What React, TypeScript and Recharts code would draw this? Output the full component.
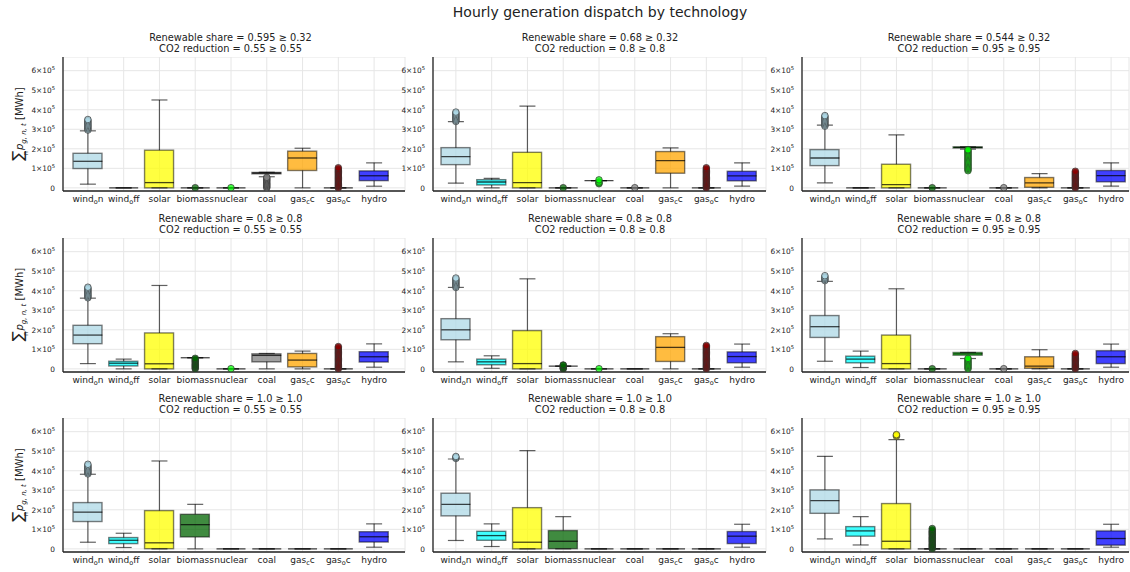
import React from "react";
import { ComposedChart, Bar, Scatter, ErrorBar, XAxis, YAxis, CartesianGrid } from "recharts";

const techs = ["wind_on", "wind_off", "solar", "biomass", "nuclear", "coal", "gas_cc", "gas_oc", "hydro"];
const techColors = ["#add8e6", "#00ffff", "#ffff00", "#006400", "#00ff00", "#808080", "#ffa500", "#8b0000", "#0000ff"];
// label pieces: [before, subscript, after]
const techLabels = [
  ["wind", "o", "n"], ["wind", "o", "ff"], ["solar", "", ""], ["biomass", "", ""], ["nuclear", "", ""],
  ["coal", "", ""], ["gas", "c", "c"], ["gas", "o", "c"], ["hydro", "", ""],
];

const renewableShare = ["0.595 ≥ 0.32", "0.68 ≥ 0.32", "0.544 ≥ 0.32", "0.8 ≥ 0.8", "0.8 ≥ 0.8", "0.8 ≥ 0.8", "1.0 ≥ 1.0", "1.0 ≥ 1.0", "1.0 ≥ 1.0"];
const co2Reduction = ["0.55 ≥ 0.55", "0.8 ≥ 0.8", "0.95 ≥ 0.95", "0.55 ≥ 0.55", "0.8 ≥ 0.8", "0.95 ≥ 0.95", "0.55 ≥ 0.55", "0.8 ≥ 0.8", "0.95 ≥ 0.95"];

const yTicks = [0, 1e5, 2e5, 3e5, 4e5, 5e5, 6e5];

// [lower whisker, q1, median, q3, upper whisker] per tech, MWh
const stats11 = [
  [0.19e5, 0.99e5, 1.36e5, 1.77e5, 2.92e5], [0, 0, 0, 0, 0], [0, 0, 0.27e5, 1.93e5, 4.5e5],
  [0, 0, 0, 0, 0], [0, 0, 0, 0, 0], [0.57e5, 0.72e5, 0.76e5, 0.79e5, 0.8e5],
  [0, 0.89e5, 1.53e5, 1.88e5, 2.03e5], [0, 0, 0, 0, 0], [0.085e5, 0.37e5, 0.62e5, 0.87e5, 1.28e5],
];
const stats12 = [
  [0.24e5, 1.19e5, 1.6e5, 2.06e5, 3.39e5], [0, 0.15e5, 0.3e5, 0.42e5, 0.49e5], [0, 0, 0.27e5, 1.82e5, 4.19e5],
  [0, 0, 0, 0, 0], [0.37e5, 0.37e5, 0.37e5, 0.37e5, 0.37e5], [0, 0, 0, 0, 0],
  [0, 0.75e5, 1.4e5, 1.86e5, 2.05e5], [0, 0, 0, 0, 0], [0.085e5, 0.36e5, 0.61e5, 0.85e5, 1.28e5],
];
const stats13 = [
  [0.26e5, 1.14e5, 1.53e5, 1.96e5, 3.21e5], [0, 0, 0, 0, 0], [0, 0, 0.17e5, 1.21e5, 2.71e5],
  [0, 0, 0, 0, 0], [1.98e5, 2.04e5, 2.07e5, 2.1e5, 2.1e5], [0, 0, 0, 0, 0],
  [0, 0.03e5, 0.26e5, 0.53e5, 0.73e5], [0, 0, 0, 0, 0], [0.085e5, 0.31e5, 0.63e5, 0.89e5, 1.28e5],
];
const stats21 = [
  [0.27e5, 1.29e5, 1.73e5, 2.23e5, 3.62e5], [0, 0.15e5, 0.29e5, 0.39e5, 0.5e5], [0, 0, 0.26e5, 1.84e5, 4.27e5],
  [0.57e5, 0.57e5, 0.57e5, 0.57e5, 0.57e5], [0, 0, 0, 0, 0], [0, 0.36e5, 0.69e5, 0.77e5, 0.79e5],
  [0, 0.1e5, 0.45e5, 0.79e5, 0.91e5], [0, 0, 0, 0, 0], [0.085e5, 0.35e5, 0.62e5, 0.88e5, 1.28e5],
];
const stats22 = [
  [0.36e5, 1.49e5, 2.0e5, 2.57e5, 4.17e5], [0.03e5, 0.21e5, 0.36e5, 0.5e5, 0.67e5], [0, 0, 0.27e5, 1.96e5, 4.61e5],
  [0.14e5, 0.14e5, 0.14e5, 0.14e5, 0.14e5], [0, 0, 0, 0, 0], [0, 0, 0, 0, 0],
  [0, 0.38e5, 1.1e5, 1.65e5, 1.8e5], [0, 0, 0, 0, 0], [0.085e5, 0.31e5, 0.63e5, 0.87e5, 1.27e5],
];
const stats23 = [
  [0.39e5, 1.61e5, 2.16e5, 2.73e5, 4.48e5], [0.07e5, 0.31e5, 0.5e5, 0.65e5, 0.91e5], [0, 0, 0.27e5, 1.73e5, 4.1e5],
  [0, 0, 0, 0, 0], [0.53e5, 0.7e5, 0.77e5, 0.84e5, 0.84e5], [0, 0, 0, 0, 0],
  [0, 0.03e5, 0.14e5, 0.62e5, 0.98e5], [0, 0, 0, 0, 0], [0.085e5, 0.27e5, 0.62e5, 0.93e5, 1.27e5],
];
const stats31 = [
  [0.34e5, 1.4e5, 1.88e5, 2.37e5, 3.82e5], [0.07e5, 0.27e5, 0.44e5, 0.58e5, 0.8e5], [0, 0.01e5, 0.31e5, 1.96e5, 4.5e5],
  [0, 0.61e5, 1.24e5, 1.77e5, 2.28e5], [0, 0, 0, 0, 0], [0, 0, 0, 0, 0],
  [0, 0, 0, 0, 0], [0, 0, 0, 0, 0], [0.085e5, 0.35e5, 0.62e5, 0.88e5, 1.28e5],
];
const stats32 = [
  [0.43e5, 1.69e5, 2.28e5, 2.85e5, 4.6e5], [0.12e5, 0.44e5, 0.68e5, 0.9e5, 1.28e5], [0, 0, 0.34e5, 2.11e5, 5.03e5],
  [0, 0.01e5, 0.39e5, 0.94e5, 1.65e5], [0, 0, 0, 0, 0], [0, 0, 0, 0, 0],
  [0, 0, 0, 0, 0], [0, 0, 0, 0, 0], [0.085e5, 0.27e5, 0.65e5, 0.89e5, 1.26e5],
];
const stats33 = [
  [0.51e5, 1.82e5, 2.47e5, 3.02e5, 4.74e5], [0.2e5, 0.65e5, 0.92e5, 1.14e5, 1.65e5], [0, 0, 0.39e5, 2.32e5, 5.59e5],
  [0, 0, 0, 0, 0], [0, 0, 0, 0, 0], [0, 0, 0, 0, 0],
  [0, 0, 0, 0, 0], [0, 0, 0, 0, 0], [0.085e5, 0.19e5, 0.53e5, 0.92e5, 1.26e5],
];

// outliers per tech
const out11 = [
  [2.96e5, 3.02e5, 3.08e5, 3.14e5, 3.2e5, 3.26e5, 3.32e5, 3.38e5, 3.44e5, 3.5e5], [], [], [0.01e5], [0.01e5],
  [0, 0.06e5, 0.12e5, 0.18e5, 0.24e5, 0.3e5, 0.36e5, 0.42e5, 0.48e5, 0.54e5], [],
  [0, 0.06e5, 0.12e5, 0.18e5, 0.24e5, 0.3e5, 0.36e5, 0.42e5, 0.48e5, 0.54e5, 0.6e5, 0.66e5, 0.72e5, 0.78e5, 0.84e5, 0.9e5, 0.96e5, 1.03e5], [],
];
const out12 = [
  [3.4e5, 3.46e5, 3.52e5, 3.58e5, 3.64e5, 3.7e5, 3.76e5, 3.82e5, 3.88e5], [], [], [0.01e5], [0.21e5, 0.25e5, 0.3e5, 0.41e5],
  [0.01e5], [],
  [0, 0.06e5, 0.12e5, 0.18e5, 0.24e5, 0.3e5, 0.36e5, 0.42e5, 0.48e5, 0.54e5, 0.6e5, 0.66e5, 0.72e5, 0.78e5, 0.84e5, 0.9e5, 0.96e5, 1.03e5], [],
];
const out13 = [
  [3.16e5, 3.22e5, 3.28e5, 3.34e5, 3.4e5, 3.46e5, 3.52e5, 3.58e5, 3.64e5, 3.7e5], [], [], [0.01e5],
  [0.88e5, 0.94e5, 1.0e5, 1.06e5, 1.12e5, 1.18e5, 1.24e5, 1.3e5, 1.36e5, 1.42e5, 1.48e5, 1.54e5, 1.6e5, 1.66e5, 1.72e5, 1.78e5, 1.84e5, 1.9e5, 1.95e5],
  [0.01e5], [],
  [0, 0.06e5, 0.12e5, 0.18e5, 0.24e5, 0.3e5, 0.36e5, 0.42e5, 0.48e5, 0.54e5, 0.6e5, 0.66e5, 0.72e5, 0.78e5, 0.85e5], [],
];
const out21 = [
  [3.64e5, 3.7e5, 3.76e5, 3.82e5, 3.88e5, 3.94e5, 4.0e5, 4.06e5, 4.12e5, 4.18e5], [], [],
  [0, 0.06e5, 0.12e5, 0.18e5, 0.24e5, 0.3e5, 0.36e5, 0.42e5, 0.48e5, 0.54e5], [0.01e5], [], [],
  [0, 0.06e5, 0.12e5, 0.18e5, 0.24e5, 0.3e5, 0.36e5, 0.42e5, 0.48e5, 0.54e5, 0.6e5, 0.66e5, 0.72e5, 0.78e5, 0.84e5, 0.9e5, 0.96e5, 1.02e5, 1.08e5, 1.14e5], [],
];
const out22 = [
  [4.17e5, 4.23e5, 4.29e5, 4.35e5, 4.41e5, 4.47e5, 4.53e5, 4.59e5, 4.65e5], [], [],
  [0, 0.04e5, 0.08e5, 0.18e5, 0.2e5], [0.01e5], [], [],
  [0, 0.06e5, 0.12e5, 0.18e5, 0.24e5, 0.3e5, 0.36e5, 0.42e5, 0.48e5, 0.54e5, 0.6e5, 0.66e5, 0.72e5, 0.78e5, 0.84e5, 0.9e5, 0.96e5, 1.02e5, 1.08e5, 1.14e5, 1.2e5], [],
];
const out23 = [
  [4.52e5, 4.58e5, 4.64e5, 4.7e5, 4.77e5], [], [], [0.01e5],
  [0, 0.06e5, 0.12e5, 0.18e5, 0.24e5, 0.3e5, 0.36e5, 0.42e5, 0.48e5, 0.54e5], [0.01e5], [],
  [0, 0.06e5, 0.12e5, 0.18e5, 0.24e5, 0.3e5, 0.36e5, 0.42e5, 0.48e5, 0.54e5, 0.6e5, 0.66e5, 0.72e5, 0.79e5], [],
];
const out31 = [
  [3.84e5, 3.9e5, 3.96e5, 4.02e5, 4.08e5, 4.14e5, 4.2e5, 4.26e5, 4.33e5], [], [], [], [], [], [], [], [],
];
const out32 = [
  [4.63e5, 4.68e5, 4.73e5], [], [], [], [], [], [], [], [],
];
const out33 = [
  [], [], [5.76e5, 5.81e5, 5.85e5],
  [0, 0.06e5, 0.12e5, 0.18e5, 0.24e5, 0.3e5, 0.36e5, 0.42e5, 0.48e5, 0.54e5, 0.6e5, 0.66e5, 0.72e5, 0.78e5, 0.84e5, 0.9e5, 0.96e5, 1.04e5],
  [], [], [], [], [],
];

const panelStats = [stats11, stats12, stats13, stats21, stats22, stats23, stats31, stats32, stats33];
const panelOutliers = [out11, out12, out13, out21, out22, out23, out31, out32, out33];

// layout (pixels)
const cols = [
  { left: 0, yw: 63, plotW: 342, pl: 7, pr: 13, titleX: 230.5 },
  { left: 388, yw: 45, plotW: 333, pl: 5, pr: 6, titleX: 600 },
  { left: 757, yw: 45, plotW: 327, pl: 5, pr: 0, titleX: 969 },
];
const rowTops = [57, 237.5, 418];
const PLOT_H = 134;
const XAXIS_H = 22;
const FONT = "DejaVu Sans";

const noShape = () => <g />;

function BoxShape(p: any) {
  const { x, y, width, height, payload } = p;
  const h = Math.abs(height || 0);
  if (h < 0.5) return <g />;
  const top = Math.min(y, y + height);
  return (
    <rect x={x} y={top} width={width} height={h} fill={payload.color} fillOpacity={0.75}
      stroke="#000" strokeOpacity={0.5} strokeWidth={1.4} />
  );
}

function MedianShape(p: any) {
  const { cx, cy } = p;
  return <line x1={cx - 14.5} x2={cx + 14.5} y1={cy} y2={cy} stroke="#000" strokeOpacity={0.72} strokeWidth={1.3} />;
}

function CapShape(p: any) {
  const { cx, cy } = p;
  return <line x1={cx - 8} x2={cx + 8} y1={cy} y2={cy} stroke="#000" strokeOpacity={0.62} strokeWidth={1.2} />;
}

function OutlierShape(p: any) {
  const { cx, cy, payload } = p;
  return <circle cx={cx} cy={cy} r={3.3} fill={payload.color} fillOpacity={0.72} stroke="#333" strokeWidth={0.7} />;
}

function TechTick(p: any) {
  const { x, y, payload } = p;
  const i = techs.indexOf(payload.value);
  const [a, sub, b] = techLabels[i];
  return (
    <text x={x} y={y + 10.5} textAnchor="middle" fontSize={9} fill="#222" fontFamily={FONT}>
      <tspan>{a}</tspan>
      {sub && <tspan fontSize={6.5} dy={2.5}>{sub}</tspan>}
      {b && <tspan dy={-2.5}>{b}</tspan>}
    </text>
  );
}

function PowTick(p: any) {
  const { x, y, payload } = p;
  const v = payload.value;
  if (v === 0) {
    return <text x={x} y={y} dy={2.8} textAnchor="end" fontSize={7.4} fill="#222" fontFamily={FONT}>0</text>;
  }
  return (
    <text x={x} y={y} dy={2.8} textAnchor="end" fontSize={7.4} fill="#222" fontFamily={FONT}>
      <tspan>{`${Math.round(v / 1e5)}×10`}</tspan>
      <tspan fontSize={5.2} dy={-3.2}>5</tspan>
    </text>
  );
}

function Panel({ idx }: { idx: number }) {
  const c = cols[idx % 3];
  const top = rowTops[Math.floor(idx / 3)];
  const stats = panelStats[idx];
  const rows = techs.map((name, i) => ({
    name,
    lo: stats[i][0], q1: stats[i][1], med: stats[i][2], q3: stats[i][3], hi: stats[i][4],
    color: techColors[i],
  }));
  const outs: any[] = [];
  panelOutliers[idx].forEach((vals, i) => vals.forEach((v) => outs.push({ name: techs[i], v, color: techColors[i] })));
  const axisLine = { stroke: "#222", strokeWidth: 1.3 };
  return (
    <div style={{ position: "absolute", left: c.left, top }}>
      <ComposedChart width={c.yw + c.plotW + 2} height={PLOT_H + XAXIS_H} data={rows}
        margin={{ top: 0, right: 2, bottom: 0, left: 0 }}>
        <CartesianGrid stroke="#e6e6e6" strokeWidth={1} />
        <XAxis dataKey="name" allowDuplicatedCategory={false} interval={0} padding={{ left: c.pl, right: c.pr }}
          tickLine={false} tickSize={0} tickMargin={0} height={XAXIS_H} axisLine={axisLine} tick={<TechTick />} />
        <YAxis type="number" domain={[-0.16e5, 6.7e5]} allowDataOverflow ticks={yTicks} interval={0} width={c.yw}
          tickLine={false} axisLine={axisLine} tick={<PowTick />} />
        <Scatter dataKey="q1" shape={noShape} isAnimationActive={false}>
          <ErrorBar dataKey={(d: any) => [d.q1 - d.lo, 0]} direction="y" width={0} stroke="#000" strokeOpacity={0.62} strokeWidth={1.2} />
        </Scatter>
        <Scatter dataKey="q3" shape={noShape} isAnimationActive={false}>
          <ErrorBar dataKey={(d: any) => [0, d.hi - d.q3]} direction="y" width={0} stroke="#000" strokeOpacity={0.62} strokeWidth={1.2} />
        </Scatter>
        <Scatter dataKey="lo" shape={CapShape} isAnimationActive={false} />
        <Scatter dataKey="hi" shape={CapShape} isAnimationActive={false} />
        <Bar dataKey={(d: any) => [d.q1, d.q3]} barSize={29} shape={BoxShape} isAnimationActive={false} />
        <Scatter dataKey="med" shape={MedianShape} isAnimationActive={false} />
        <Scatter data={outs} dataKey="v" shape={OutlierShape} isAnimationActive={false} />
      </ComposedChart>
    </div>
  );
}

export default function App() {
  return (
    <div style={{ position: "fixed", left: 0, top: 0, width: 1130, height: 572, background: "#fff", overflow: "hidden", fontFamily: FONT }}>
      {[0, 1, 2, 3, 4, 5, 6, 7, 8].map((i) => <Panel key={i} idx={i} />)}
      <svg width={1130} height={572} style={{ position: "absolute", left: 0, top: 0, pointerEvents: "none" }}>
        <text x={600} y={17} textAnchor="middle" fontSize={14} fill="#222" fontFamily={FONT}>
          Hourly generation dispatch by technology
        </text>
        {panelStats.map((_, i) => {
          const c = cols[i % 3];
          const top = rowTops[Math.floor(i / 3)];
          return (
            <g key={i}>
              <text x={c.titleX} y={top - 16} textAnchor="middle" fontSize={9.8} fill="#222" fontFamily={FONT}>
                {`Renewable share = ${renewableShare[i]}`}
              </text>
              <text x={c.titleX} y={top - 5} textAnchor="middle" fontSize={9.8} fill="#222" fontFamily={FONT}>
                {`CO2 reduction = ${co2Reduction[i]}`}
              </text>
            </g>
          );
        })}
        {rowTops.map((t, r) => (
          <text key={r} transform={`translate(23, ${t + PLOT_H / 2}) rotate(-90)`} textAnchor="middle"
            fontSize={10} fill="#222" fontFamily={FONT}>
            <tspan fontSize={15}>∑</tspan>
            <tspan fontSize={7} dy={5} dx={-5}>n</tspan>
            <tspan fontStyle="italic" dy={-5} dx={1}>p</tspan>
            <tspan fontSize={7} fontStyle="italic" dy={2.5}>g, n, t</tspan>
            <tspan dy={-2.5}> [MWh]</tspan>
          </text>
        ))}
      </svg>
    </div>
  );
}
